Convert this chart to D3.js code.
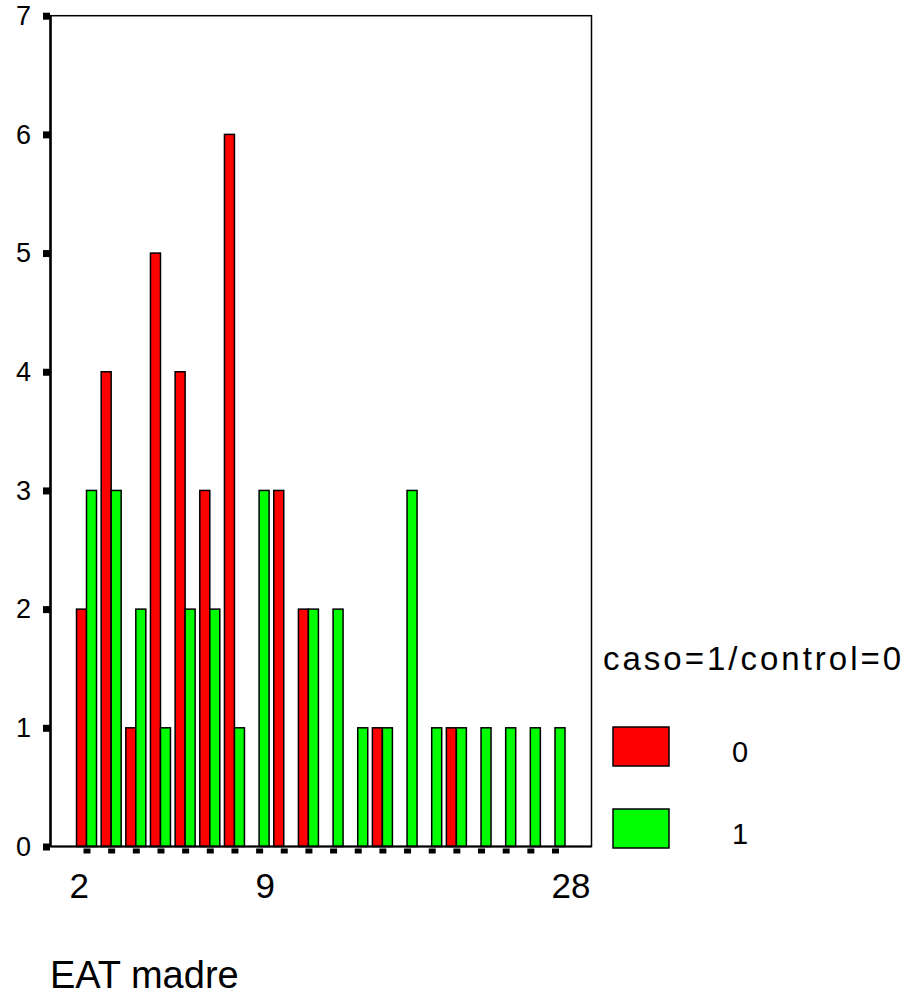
<!DOCTYPE html>
<html>
<head>
<meta charset="utf-8">
<script src="https://cdn.jsdelivr.net/npm/d3@7"></script>
<style>
  body { margin: 0; background: #fff; }
  text { font-family: "Liberation Sans", Arial, sans-serif; fill: #000; }
</style>
</head>
<body>
<div id="chart"></div>
<script>
// categories of EAT madre (only some are labelled on the axis)
var categories = d3.range(20);
var tickLabels = ["2", "", "", "", "", "", "", "9", "", "", "", "", "", "", "", "", "", "", "", "28"];

// counts per group
var groups = ["0", "1"];
var control0 = [2, 4, 1, 5, 4, 3, 6, 0, 3, 2, 0, 0, 1, 0, 0, 1, 0, 0, 0, 0];
var caso1    = [3, 3, 2, 1, 2, 2, 1, 3, 0, 2, 2, 1, 1, 3, 1, 1, 1, 1, 1, 1];
var yTicks = [0, 1, 2, 3, 4, 5, 6, 7];

var colors = ["#ff0000", "#00ff00"];

var width = 916, height = 996;
var plotLeft = 50.5, plotRight = 591.5, plotTop = 15.7, plotBottom = 846.5;
var barW = 10;

var svg = d3.select("#chart").append("svg")
    .attr("width", width)
    .attr("height", height);

var x = d3.scalePoint()
    .domain(categories)
    .range([86.5, 555]);

var y = d3.scaleLinear()
    .domain([0, 7])
    .range([plotBottom, plotTop]);

// bars
var series = [control0, caso1];
series.forEach(function (vals, s) {
    svg.append("g").selectAll("rect")
        .data(categories.filter(function (c) { return vals[c] > 0; }))
        .enter().append("rect")
        .attr("x", function (c) { return x(c) - (s === 0 ? barW : 0); })
        .attr("y", function (c) { return y(vals[c]); })
        .attr("width", barW)
        .attr("height", function (c) { return y(0) - y(vals[c]); })
        .attr("fill", colors[s])
        .attr("stroke", "#000")
        .attr("stroke-width", 1.5);
});

// frame
svg.append("rect")
    .attr("x", plotLeft).attr("y", plotTop)
    .attr("width", plotRight - plotLeft).attr("height", plotBottom - plotTop)
    .attr("fill", "none")
    .attr("stroke", "#000")
    .attr("stroke-width", 1.5);
svg.append("line")
    .attr("x1", plotLeft).attr("x2", plotLeft)
    .attr("y1", plotTop).attr("y2", plotBottom)
    .attr("stroke", "#000").attr("stroke-width", 2.5);
svg.append("line")
    .attr("x1", plotLeft).attr("x2", plotRight)
    .attr("y1", plotBottom).attr("y2", plotBottom)
    .attr("stroke", "#000").attr("stroke-width", 2);

// y axis
var yAxis = svg.append("g")
    .attr("transform", "translate(" + (plotLeft - 0.5) + ",0)")
    .call(d3.axisLeft(y).tickValues(yTicks).tickSize(7).tickPadding(12).tickFormat(d3.format("d")));
yAxis.select(".domain").remove();
yAxis.selectAll(".tick line").attr("stroke", "#000").attr("stroke-width", 7);
yAxis.selectAll(".tick text")
    .attr("font-size", 27)
    .attr("font-family", "Liberation Sans, Arial, sans-serif");

// x axis
var xAxis = svg.append("g")
    .attr("transform", "translate(0," + (plotBottom + 2) + ")")
    .call(d3.axisBottom(x).tickSize(5).tickPadding(20).tickFormat(function (c) { return tickLabels[c]; }));
xAxis.select(".domain").remove();
xAxis.selectAll(".tick line").attr("stroke", "#000").attr("stroke-width", 7);
xAxis.selectAll(".tick text")
    .attr("font-size", 35)
    .attr("font-family", "Liberation Sans, Arial, sans-serif")
    .attr("text-anchor", function (c) { return c === 0 ? "end" : "start"; })
    .attr("dx", function (c) { return c === 0 ? 2 : -4; });

// x title
svg.append("text")
    .attr("x", 50).attr("y", 988)
    .attr("font-size", 38)
    .text("EAT madre");

// legend
svg.append("text")
    .attr("x", 603).attr("y", 670)
    .attr("font-size", 33)
    .attr("letter-spacing", 3)
    .text("caso=1/control=0");

var legend = svg.append("g").selectAll("g")
    .data(groups)
    .enter().append("g")
    .attr("transform", function (d, i) { return "translate(613," + (727 + i * 82) + ")"; });
legend.append("rect")
    .attr("width", 56).attr("height", 39)
    .attr("fill", function (d, i) { return colors[i]; })
    .attr("stroke", "#000").attr("stroke-width", 1.5);
legend.append("text")
    .attr("x", 119).attr("y", 35)
    .attr("font-size", 29)
    .text(function (d) { return d; });
</script>
</body>
</html>
